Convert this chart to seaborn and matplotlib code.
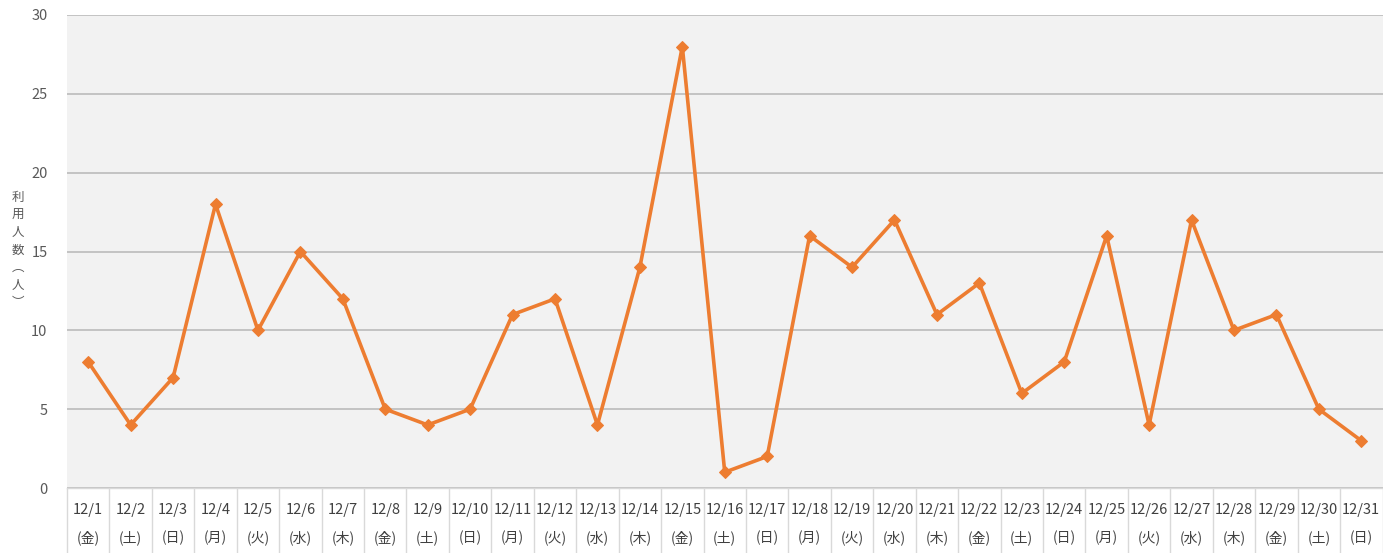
import matplotlib
matplotlib.use("Agg")
import matplotlib.pyplot as plt
import matplotlib.transforms as mtransforms
import seaborn as sns
import pandas as pd

dates = [f"12/{d}" for d in range(1, 32)]
weekdays = ["金", "土", "日", "月", "火", "水", "木"] * 5
weekdays = weekdays[:31]
users = [8, 4, 7, 18, 10, 15, 12, 5, 4, 5, 11, 12, 4, 14, 28, 1, 2, 16, 14, 17,
         11, 13, 6, 8, 16, 4, 17, 10, 11, 5, 3]
yticks = [0, 5, 10, 15, 20, 25, 30]
ylabel_chars = ["利", "用", "人", "数", "︵", "人", "︶"]

sns.set_theme(style="white")
plt.rcParams['font.family'] = ['Noto Sans CJK JP', 'DejaVu Sans']

df = pd.DataFrame({"pos": list(range(len(dates))), "users": users})

fig = plt.figure(figsize=(13.83, 5.53), dpi=100)
ax = fig.add_axes([67 / 1383, 1 - 488 / 553, 1 - 67 / 1383 - 0.5 / 1383, (488 - 15) / 553])
ax.set_facecolor("#f2f2f2")

sns.lineplot(data=df, x="pos", y="users", ax=ax, color="#ED7D31", linewidth=2.6,
             marker="D", markersize=6.5, markeredgecolor="#ED7D31", sort=False, zorder=3)

ax.set_xlim(-0.5, len(dates) - 0.5)
ax.set_ylim(0, 30)
ax.set_yticks(yticks)
ax.set_yticklabels([str(v) for v in yticks], color="#595959", fontsize=10.5)
ax.yaxis.grid(True, color="#c0c0c0", linewidth=1.3)
ax.set_axisbelow(True)
ax.tick_params(axis="y", length=0, pad=14)
ax.set_xticks(range(len(dates)))
ax.set_xticklabels([])
ax.tick_params(axis="x", length=0)
ax.set_xlabel("")
ax.set_ylabel("")
for s in ["top", "right", "left"]:
    ax.spines[s].set_visible(False)
ax.spines["bottom"].set_color("#d9d9d9")
ax.spines["bottom"].set_linewidth(1.0)

trans = mtransforms.blended_transform_factory(ax.transData, ax.transAxes)
for i in range(len(dates) + 1):
    ax.plot([i - 0.5, i - 0.5], [0, -0.15], transform=trans, color="#d9d9d9",
            linewidth=1.0, clip_on=False)
for i, (d, w) in enumerate(zip(dates, weekdays)):
    ax.text(i, -0.046, d, transform=trans, ha="center", va="center",
            fontsize=10.5, color="#404040", clip_on=False)
    ax.text(i, -0.105, f"({w})", transform=trans, ha="center", va="center",
            fontsize=10, color="#404040", clip_on=False)

fig.text(18 / 1383, 1 - 250 / 553, "\n".join(ylabel_chars), ha="center", va="center",
         fontsize=9, color="#595959", linespacing=1.45)

fig.savefig("out.png", dpi=100, facecolor="white")
